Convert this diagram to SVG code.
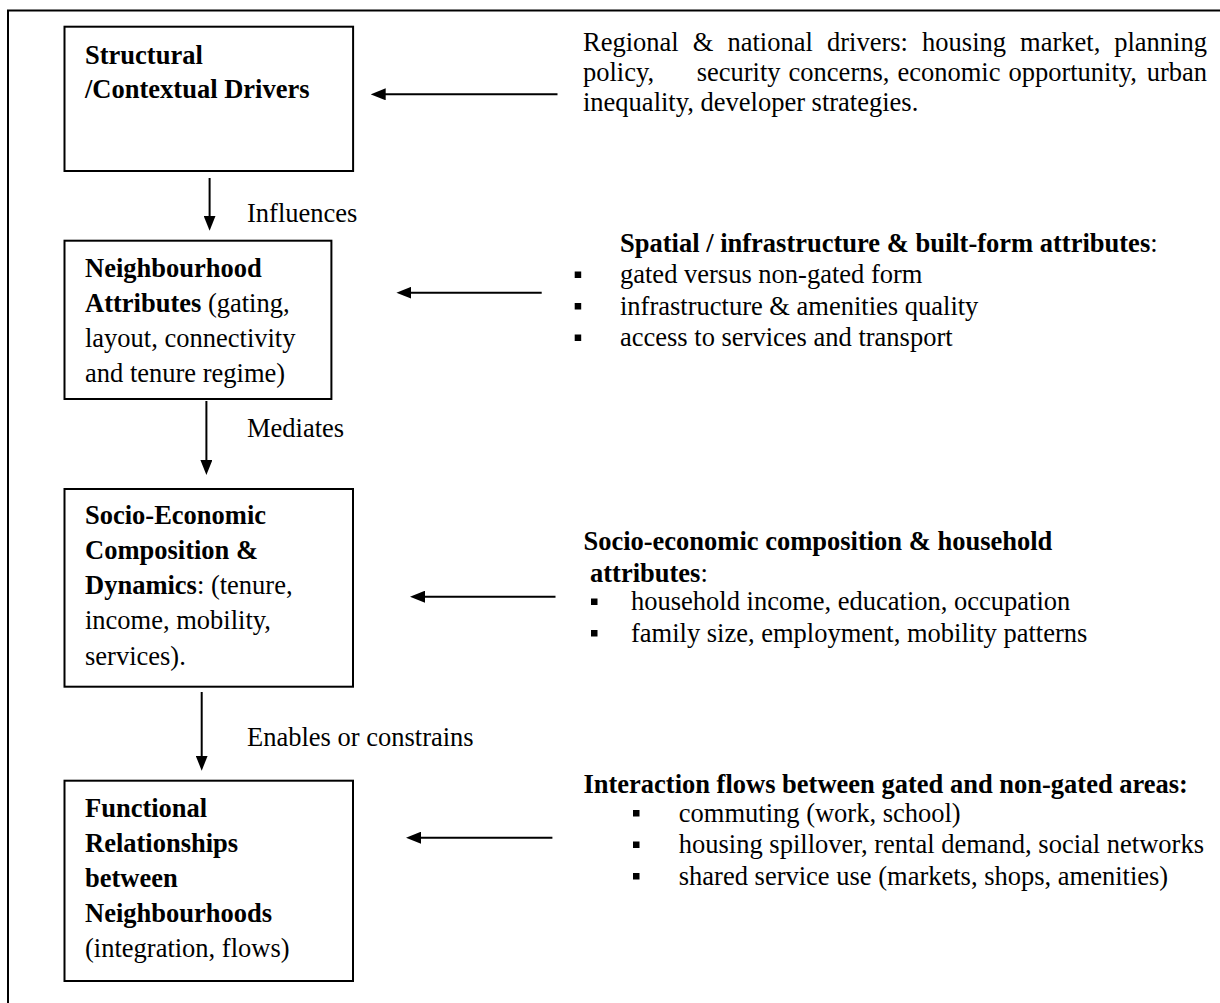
<svg xmlns="http://www.w3.org/2000/svg" width="1220" height="1003" viewBox="0 0 1220 1003">
  <style>
    text { font-family: "Liberation Serif", "Times New Roman", serif; font-size: 26.5px; fill: #000; }
    .b { font-weight: bold; }
    .box { fill: #fff; stroke: #000; stroke-width: 2; }
    .ln { stroke: #000; stroke-width: 2; fill: none; }
    .bul { fill: #000; }
  </style>
  <defs>
    <marker id="ah" viewBox="0 0 15 12" markerWidth="15" markerHeight="12" refX="1" refY="6" orient="auto" markerUnits="userSpaceOnUse">
      <path d="M0,0 L15,6 L0,12 z" fill="#000"/>
    </marker>
  </defs>
  <rect x="0" y="0" width="1220" height="1003" fill="#fff"/>
  <rect id="frame" x="8" y="10.5" width="1240" height="1020" fill="none" stroke="#000" stroke-width="2"/>

  <g id="connectors">
    <line class="ln" x1="557.5" y1="94.3" x2="384.7" y2="94.3" marker-end="url(#ah)"/>
    <line class="ln" x1="541.7" y1="292.7" x2="410.4" y2="292.7" marker-end="url(#ah)"/>
    <line class="ln" x1="555.5" y1="596.7" x2="424" y2="596.7" marker-end="url(#ah)"/>
    <line class="ln" x1="552.4" y1="837.7" x2="420" y2="837.7" marker-end="url(#ah)"/>
    <line class="ln" x1="209.6" y1="178" x2="209.6" y2="216.7" marker-end="url(#ah)"/>
    <line class="ln" x1="206.4" y1="401" x2="206.4" y2="461" marker-end="url(#ah)"/>
    <line class="ln" x1="201.7" y1="692" x2="201.7" y2="756.7" marker-end="url(#ah)"/>
    <text x="247" y="221.7">Influences</text>
    <text x="247" y="437">Mediates</text>
    <text x="247" y="746">Enables or constrains</text>
  </g>

  <g id="node-structural">
    <rect class="box" x="64.5" y="26.7" width="288.6" height="144.3"/>
    <text class="b" x="85" y="64.3">Structural</text>
    <text class="b" x="85" y="97.7">/Contextual Drivers</text>
  </g>

  <g id="node-neighbourhood">
    <rect class="box" x="64.5" y="240.7" width="266.9" height="158.3"/>
    <text class="b" x="85" y="276.7">Neighbourhood</text>
    <text x="85" y="311.7"><tspan class="b">Attributes</tspan> (gating,</text>
    <text x="85" y="346.7">layout, connectivity</text>
    <text x="85" y="381.7">and tenure regime)</text>
  </g>

  <g id="node-socio">
    <rect class="box" x="64.5" y="489" width="288.5" height="197.7"/>
    <text class="b" x="85" y="524">Socio-Economic</text>
    <text class="b" x="85" y="559">Composition &amp;</text>
    <text x="85" y="594"><tspan class="b">Dynamics</tspan>: (tenure,</text>
    <text x="85" y="629">income, mobility,</text>
    <text x="85" y="665">services).</text>
  </g>

  <g id="node-functional">
    <rect class="box" x="64.5" y="780.7" width="288.5" height="200.3"/>
    <text class="b" x="85" y="816.7">Functional</text>
    <text class="b" x="85" y="851.7">Relationships</text>
    <text class="b" x="85" y="886.7">between</text>
    <text class="b" x="85" y="921.7">Neighbourhoods</text>
    <text x="85" y="956.7">(integration, flows)</text>
  </g>

  <g id="note-drivers">
    <text y="51"><tspan x="583">Regional</tspan><tspan x="692.8">&amp;</tspan><tspan x="727.5">national</tspan><tspan x="827">drivers:</tspan><tspan x="922.1">housing</tspan><tspan x="1020.1">market,</tspan></text>
    <text x="1207" y="51" text-anchor="end">planning</text>
    <text y="81"><tspan x="583">policy,</tspan><tspan x="696.7">security</tspan><tspan x="788.6">concerns,</tspan><tspan x="897.4">economic</tspan><tspan x="1008.4">opportunity,</tspan></text>
    <text x="1207" y="81" text-anchor="end">urban</text>
    <text x="583" y="111">inequality, developer strategies.</text>
  </g>

  <g id="note-spatial">
    <text x="620" y="251.7"><tspan class="b">Spatial / infrastructure &amp; built-form attributes</tspan>:</text>
    <rect class="bul" x="574.7" y="271.5" width="6.5" height="6.5"/>
    <text x="620" y="283.3">gated versus non-gated form</text>
    <rect class="bul" x="574.7" y="303" width="6.5" height="6.5"/>
    <text x="620" y="314.8">infrastructure &amp; amenities quality</text>
    <rect class="bul" x="574.7" y="334.5" width="6.5" height="6.5"/>
    <text x="620" y="346.3">access to services and transport</text>
  </g>

  <g id="note-socio">
    <text class="b" x="583.4" y="550">Socio-economic composition &amp; household</text>
    <text x="590" y="581.7"><tspan class="b">attributes</tspan>:</text>
    <rect class="bul" x="591" y="598.5" width="6.5" height="6.5"/>
    <text x="631" y="610">household income, education, occupation</text>
    <rect class="bul" x="591" y="630" width="6.5" height="6.5"/>
    <text x="631" y="641.7">family size, employment, mobility patterns</text>
  </g>

  <g id="note-interaction">
    <text class="b" x="583.4" y="792.5">Interaction flows between gated and non-gated areas:</text>
    <rect class="bul" x="633" y="810" width="6.5" height="6.5"/>
    <text x="678.8" y="821.7">commuting (work, school)</text>
    <rect class="bul" x="633" y="841.5" width="6.5" height="6.5"/>
    <text x="678.8" y="853.3">housing spillover, rental demand, social networks</text>
    <rect class="bul" x="633" y="873" width="6.5" height="6.5"/>
    <text x="678.8" y="885">shared service use (markets, shops, amenities)</text>
  </g>
</svg>
